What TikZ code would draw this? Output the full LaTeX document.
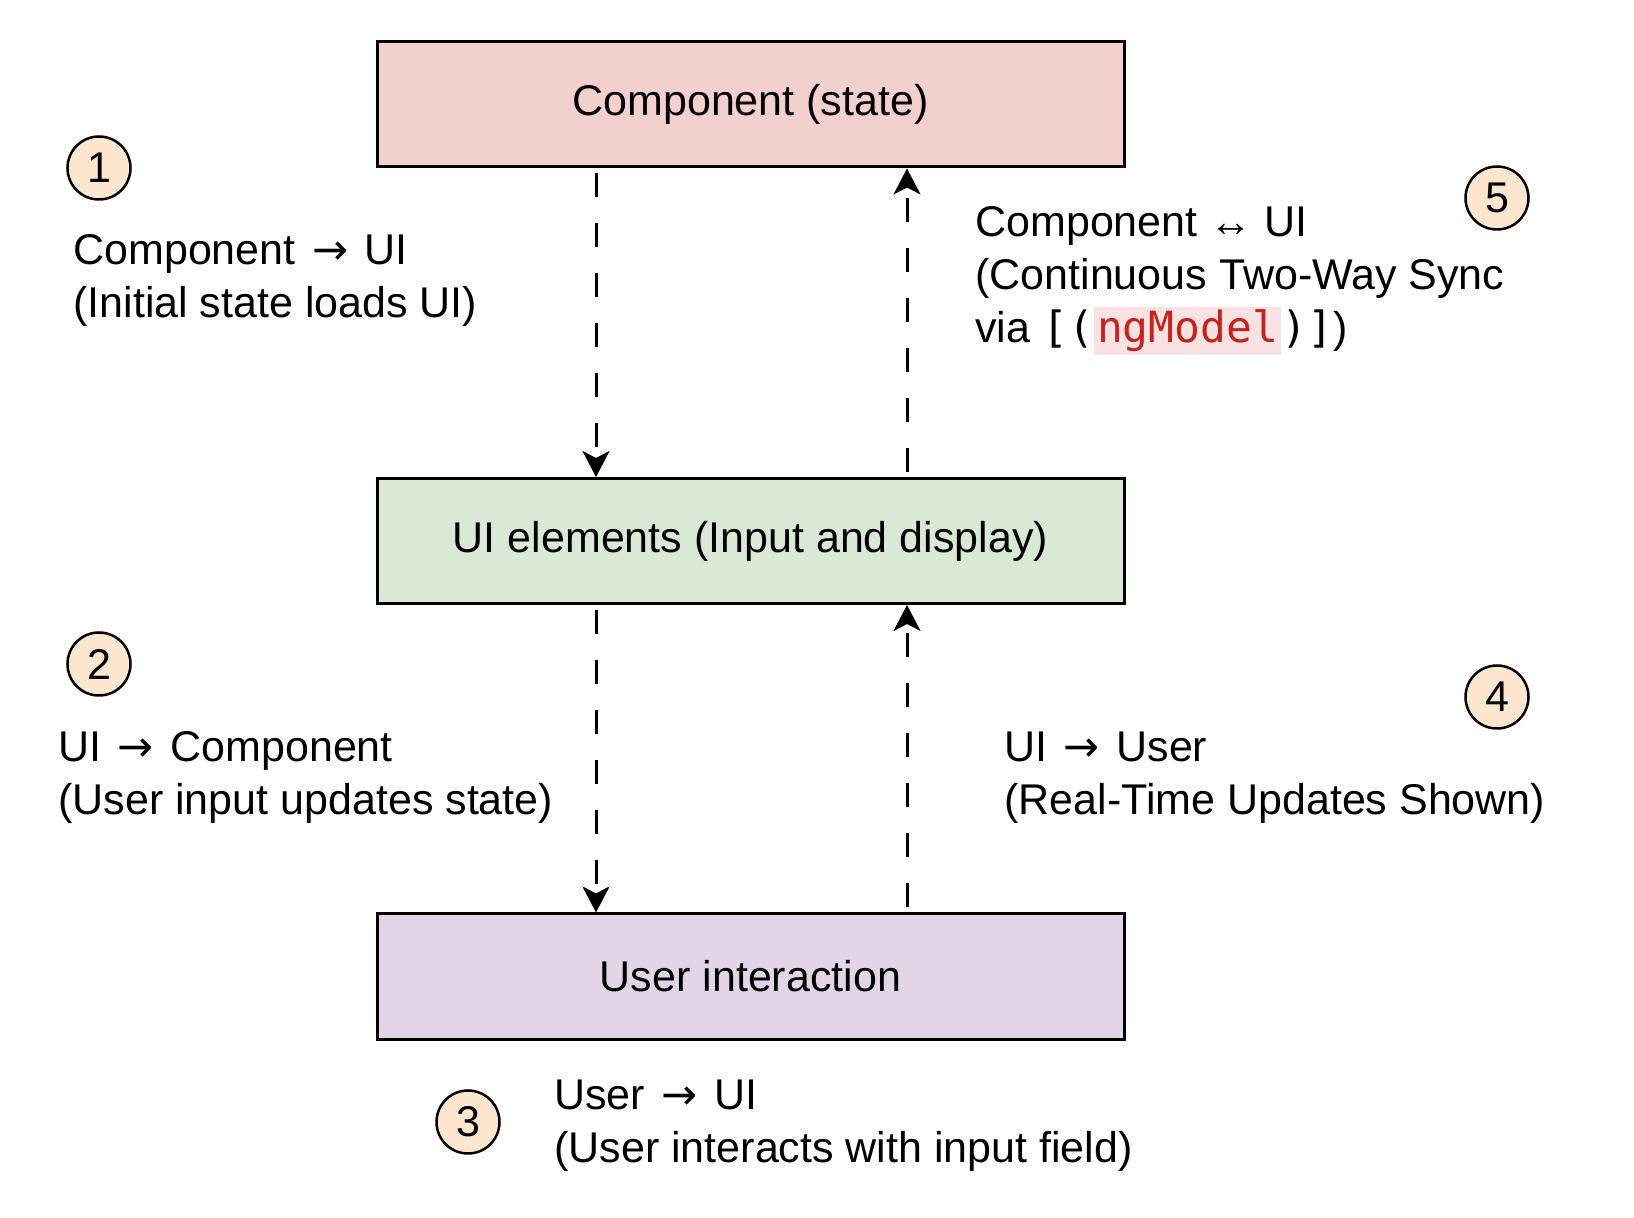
\documentclass[tikz,border=0pt]{standalone}
\usepackage{fontspec}
\setmainfont{Liberation Sans}
\setmonofont{DejaVu Sans Mono}
\newfontfamily\arrowfont{DejaVu Sans}
\newcommand{\flowto}{\hspace{2.3pt}{\arrowfont →}\hspace{2.3pt}}
\usepackage{tikz}
\usetikzlibrary{arrows.meta}
\definecolor{compRed}{HTML}{F2D0CE}
\definecolor{uiGreen}{HTML}{DAE8D6}
\definecolor{userPurple}{HTML}{E1D5E7}
\definecolor{stepOrange}{HTML}{FCE6CF}
\definecolor{codeRed}{RGB}{196,36,28}
\definecolor{codeBg}{RGB}{250,226,226}
\setlength{\fboxsep}{1.5pt}

\begin{document}
\begin{tikzpicture}[x=0.5pt, y=-0.5pt]%
  \tikzset{flow arrow/.style={draw, line width=1.5pt, dash pattern=on 12pt off 13pt, -{Stealth[length=13pt,width=13.5pt,inset=3.5pt]}, shorten <=2.5pt}}
  \tikzset{box/.style={draw, line width=1.5pt, minimum width=373.5pt, minimum height=62.5pt, inner sep=0pt}}
  \tikzset{stepnum/.style={draw, circle, line width=1.25pt, fill=stepOrange, minimum size=31.5pt, inner sep=0pt}}
  \tikzset{note/.style={anchor=base west, align=left, inner sep=0pt}}% base = last line
  \tikzstyle{every node}=[font=\fontsize{21.5}{26.5}\selectfont, text=black]

  \useasboundingbox (0,0) rectangle (1634,1218);

  \node[box, fill=compRed] at (750.5,104.5) (Comp) {Component (state)};
  \node[box, fill=uiGreen] at (750.5,541) (UIel) {UI elements (Input and display)};
  \node[box, fill=userPurple] at (750.5,976.5) (User) {User interaction};

  \node[stepnum] at (99,168) (n1) {1};
  \node[stepnum] at (99,664) (n2) {2};
  \node[stepnum] at (468,1122) (n3) {3};
  \node[stepnum] at (1497,697) (n4) {4};
  \node[stepnum] at (1497,198) (n5) {5};

  \node[note] at (73,318) (L1) {Component \flowto{} UI\\(Initial state loads UI)};
  \node[note] at (58,815) (L2) {UI \flowto{} Component\\(User input updates state)};
  \node[note] at (554,1162) (L3) {User \flowto{} UI\\(User interacts with input field)};
  \node[note] at (1004,815) (L4) {UI \flowto{} User\\(Real-Time Updates Shown)};
  \node[note] at (975,343) (L5) {Component ↔ UI\\(Continuous Two-Way Sync\\via {\ttfamily[(}\colorbox{codeBg}{\ttfamily\textcolor{codeRed}{ngModel}}{\ttfamily)]})};

  \path ([xshift=-77.25pt]Comp.south) edge[flow arrow] ([xshift=-77.25pt]UIel.north);
  \path ([xshift=78.25pt]UIel.north) edge[flow arrow] ([xshift=78.25pt]Comp.south);
  \path ([xshift=-77.25pt]UIel.south) edge[flow arrow] ([xshift=-77.25pt]User.north);
  \path ([xshift=78.25pt]User.north) edge[flow arrow] ([xshift=78.25pt]UIel.south);
\end{tikzpicture}
\end{document}
